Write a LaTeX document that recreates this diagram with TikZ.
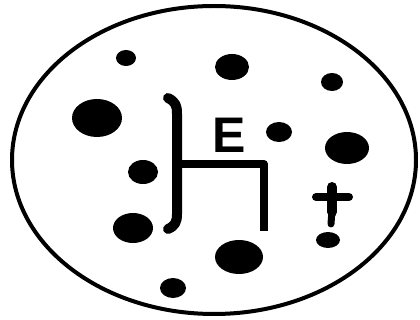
\documentclass[tikz,border=0pt]{standalone}
\usepackage{fontspec}
\setmainfont{Liberation Sans}
\begin{document}
\begin{tikzpicture}[x=1pt,y=-1pt,
  dot/.style={fill=black},
  stroke/.style={draw=black,line cap=round,line join=round}]
\useasboundingbox (0,0) rectangle (420,320);
% outer ellipse
\draw[line width=4pt] (214,160) ellipse [x radius=202, y radius=154];
% dots
\fill[dot] (126,58) ellipse [x radius=10, y radius=8];
\fill[dot] (232,67) ellipse [x radius=17, y radius=13];
\fill[dot] (332,82) ellipse [x radius=11, y radius=9];
\fill[dot] (97,118) ellipse [x radius=25, y radius=19];
\fill[dot] (279,132) ellipse [x radius=13, y radius=10];
\fill[dot] (347,148) ellipse [x radius=22, y radius=16];
\fill[dot] (143,172) ellipse [x radius=15, y radius=12];
\fill[dot] (133,228) ellipse [x radius=20, y radius=15];
\fill[dot] (328,240) ellipse [x radius=12, y radius=8];
\fill[dot] (239,257) ellipse [x radius=24, y radius=17];
\fill[dot] (173,288) ellipse [x radius=13, y radius=10];
% bracket and frame
\draw[stroke,line width=10pt] (168,98) .. controls (176,102) and (177,106) .. (177,114)
  -- (177,214) .. controls (177,222) and (175,226) .. (168,229);
\draw[stroke,line width=8pt,line cap=butt] (180,164) -- (264,164) -- (264,231);
% letter E
\node[inner sep=0pt,font=\fontsize{50}{50}\selectfont\bfseries] (E) at (229,135) {E};
% dagger
\draw[line width=8pt,line cap=round] (316,197) -- (349,197);
\draw[line width=10pt,line cap=round] (332,187) -- (332,212);
\draw[line width=7pt,line cap=round] (332,210) -- (331,224);
\end{tikzpicture}
\end{document}
